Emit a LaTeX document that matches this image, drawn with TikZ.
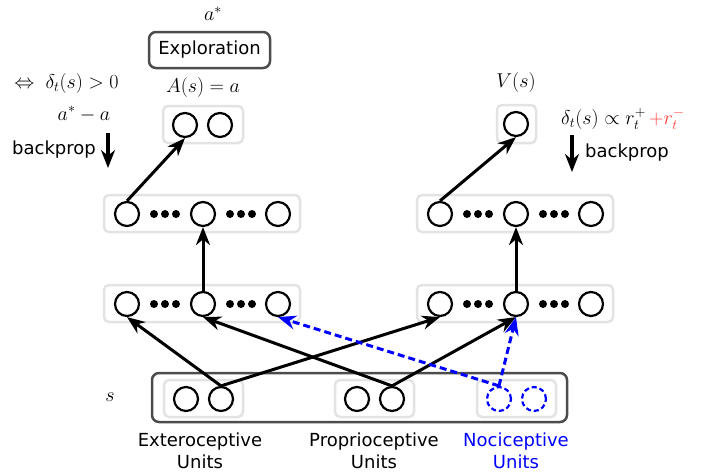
\RequirePackage{fix-cm}
\documentclass[tikz,border=0pt]{standalone}
\usepackage{fontspec}
\setmainfont{DejaVu Sans}
\usetikzlibrary{arrows.meta}
\definecolor{lred}{RGB}{255,60,60}
\begin{document}
\begin{tikzpicture}[x=1pt,y=-1pt,
 font=\fontsize{18}{22}\selectfont,
 mth/.style={font=\fontsize{20}{24}\selectfont},
 unit/.style={circle,draw,line width=2.2pt,minimum size=24pt,inner sep=0pt},
 nunit/.style={unit,draw=blue,dash pattern=on 5pt off 3pt},
 grp/.style={draw=black!11,line width=2.5pt,rounded corners=5pt},
 frame/.style={draw=black!70,line width=2.5pt,rounded corners=7pt},
 link/.style={line width=3pt,-{Stealth[length=18pt,width=14pt]}},
 nlink/.style={link,blue,dash pattern=on 7pt off 4pt},
 bp/.style={line width=3.2pt,-{Stealth[length=18pt,width=14pt]}}]
\useasboundingbox (0,0) rectangle (718,475);

% group boxes
\draw[grp] (163,106) rectangle (243,143);
\draw[grp] (497,105) rectangle (536,143);
\foreach \y in {195,285}{
  \draw[grp] (104,\y) rectangle (300,\y+37);
  \draw[grp] (417,\y) rectangle (613,\y+37);
}
\draw[grp] (164,380) rectangle (243,417);
\draw[grp] (335,380) rectangle (414,417);
\draw[grp] (477,380) rectangle (556,417);
\draw[frame] (152,373) rectangle (567,422);

% output units
\node[unit] (o1) at (185,125) {};
\node[unit] (o2) at (220,125) {};
\node[unit] (v) at (516,124) {};

% hidden layers
\foreach \n/\y in {a/214,b/304}{
  \node[unit] (L\n1) at (127,\y) {};
  \node[unit] (L\n2) at (203,\y) {};
  \node[unit] (L\n3) at (278,\y) {};
  \node[unit] (R\n1) at (440,\y) {};
  \node[unit] (R\n2) at (516,\y) {};
  \node[unit] (R\n3) at (591,\y) {};
  \foreach \cx in {165,241,478,554}{
    \foreach \dx in {-11,0,11}{
      \fill (\cx+\dx,\y) circle (4pt);
    }
  }
}

% input units
\node[unit] (e1) at (186,399) {};
\node[unit] (e2) at (221,399) {};
\node[unit] (p1) at (357,399) {};
\node[unit] (p2) at (392,399) {};
\node[nunit] (n1) at (499,399) {};
\node[nunit] (n2) at (534,399) {};

% texts
\node[mth] (astar) at (213,14) {$a^*$};
\node[frame,minimum width=121pt,minimum height=36pt,inner sep=0pt] (expl) at (209.5,50) {Exploration};
\node[mth] (iff) at (66.5,83) {$\Leftrightarrow\;\delta_t(s)>0$};
\node[mth] (As) at (203,87) {$A(s)=a$};
\node[mth] (diff) at (84,114) {$a^*-a$};
\node[anchor=west,inner sep=0pt] (bpl) at (12,150) {backprop};
\node[mth] (Vs) at (516,82) {$V(s)$};
\node[mth,anchor=west,inner sep=0pt] (delta) at (561,119) {$\delta_t(s)\propto r_t^{+}\,{\color{lred}+r_t^{-}}$};
\node[anchor=west,inner sep=0pt] (bpr) at (585,153) {backprop};
\node[mth] (s) at (110,397) {$s$};
\node[align=center] (ext) at (200,451) {Exteroceptive\\Units};
\node[align=center] (pro) at (374,451) {Proprioceptive\\Units};
\node[align=center,text=blue] (noc) at (516,451) {Nociceptive\\Units};

% backprop arrows
\coordinate (bl1) at (108,133);
\coordinate (bl2) at (108,168);
\coordinate (br1) at (572,135);
\coordinate (br2) at (572,172);
\draw[bp] (bl1) -- (bl2);
\draw[bp] (br1) -- (br2);

% connections
\draw[link] (e2.north) -- (Lb1.south);
\draw[link] (e2.north) -- (Rb1.south);
\draw[link] (p2.north) -- (Lb2.south);
\draw[link] (p2.north) -- (Rb2.south);
\draw[nlink] (n1.north) -- (Lb3.south);
\draw[nlink] (n1.north) -- (Rb2.south);
\draw[link] (Lb2.north) -- (La2.south);
\draw[link] (Rb2.north) -- (Ra2.south);
\draw[link] (La1.north) -- (o1.south);
\draw[link] (Ra1.north) -- (v.south);
\end{tikzpicture}
\end{document}
